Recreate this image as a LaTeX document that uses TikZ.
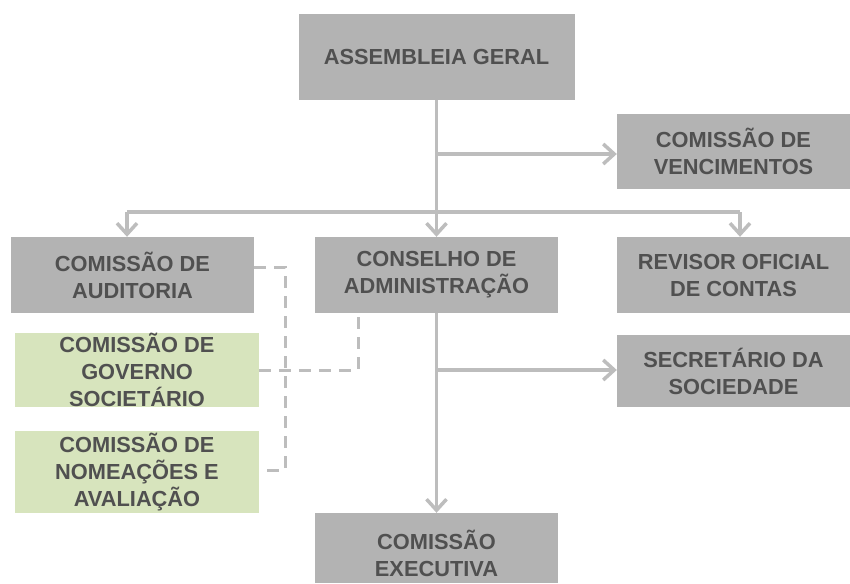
\documentclass[tikz,border=0pt]{standalone}
\usepackage{fontspec}
\setmainfont{Liberation Sans}
\usetikzlibrary{arrows.meta}
\definecolor{boxgray}{HTML}{B3B3B3}
\definecolor{boxgreen}{HTML}{D7E4BD}
\definecolor{txtgray}{HTML}{505050}
\definecolor{lngray}{HTML}{BDBDBD}
\tikzset{
  orgbox/.style={fill=boxgray, draw=none, inner sep=0pt, align=center, text=txtgray,
    font=\fontsize{21.8}{27}\selectfont\bfseries},
  greenbox/.style={orgbox, fill=boxgreen},
  conn/.style={draw=lngray, line width=3.2pt},
  arr/.style={conn, -{Straight Barb[length=11pt,width=20pt,line width=3.5pt]}},
  dashline/.style={draw=lngray, line width=3pt, dash pattern=on 12pt off 8pt}
}
\begin{document}
\begin{tikzpicture}[x=1pt,y=-1pt]
\useasboundingbox (0,0) rectangle (850,583);
\fill[white] (0,0) rectangle (850,583);
% boxes
\node[orgbox, minimum width=276pt, minimum height=86pt] (ag) at (436.5,57) {ASSEMBLEIA GERAL};
\node[orgbox, minimum width=233pt, minimum height=75pt] (cv) at (733.5,151.5) {COMISSÃO DE\\VENCIMENTOS};
\node[orgbox, minimum width=243pt, minimum height=76pt] (aud) at (132.5,275) {COMISSÃO DE\\AUDITORIA};
\node[orgbox, minimum width=243pt, minimum height=76pt] (ca) at (436.5,275) {CONSELHO DE\\ADMINISTRAÇÃO};
\node[orgbox, minimum width=233pt, minimum height=76pt] (roc) at (733.5,275) {REVISOR OFICIAL\\DE CONTAS};
\node[greenbox, minimum width=244pt, minimum height=74pt] (gov) at (137,370) {COMISSÃO DE\\GOVERNO\\SOCIETÁRIO};
\node[orgbox, minimum width=233pt, minimum height=72pt] (sec) at (733.5,371) {SECRETÁRIO DA\\SOCIEDADE};
\node[greenbox, minimum width=244pt, minimum height=82pt] (nom) at (137,472) {COMISSÃO DE\\NOMEAÇÕES E\\AVALIAÇÃO};
\node[orgbox, minimum width=243pt, minimum height=70pt] (ce) at (436.5,548) {};
\node[orgbox, fill=none] (cet) at (436.5,553) {COMISSÃO\\EXECUTIVA};
% junction coordinates
\coordinate (j1) at (436.5,154);
\coordinate (bl) at (127,212);
\coordinate (bm) at (436.5,212);
\coordinate (br) at (740,212);
\coordinate (j2) at (436.5,370);
\coordinate (d1) at (285,267);
\coordinate (d2) at (285,470);
\coordinate (d3) at (358,370);
% solid connectors
\draw[arr] (ag.south) -- (ca.north);
\draw[arr] (j1) -- (cv.west |- j1);
\draw[conn] (bl) -- (br);
\draw[arr] (bl) -- (bl |- aud.north);
\draw[arr] (br) -- (br |- roc.north);
\draw[arr] (ca.south) -- (ce.north);
\draw[arr] (j2) -- (sec.west |- j2);
% dashed connectors
\draw[dashline] (aud.east |- d1) -- (d1) -- (d2) -- (nom.east |- d2);
\draw[dashline] (gov.east |- d3) -- (d3) -- (d3 |- ca.south);
\end{tikzpicture}
\end{document}
